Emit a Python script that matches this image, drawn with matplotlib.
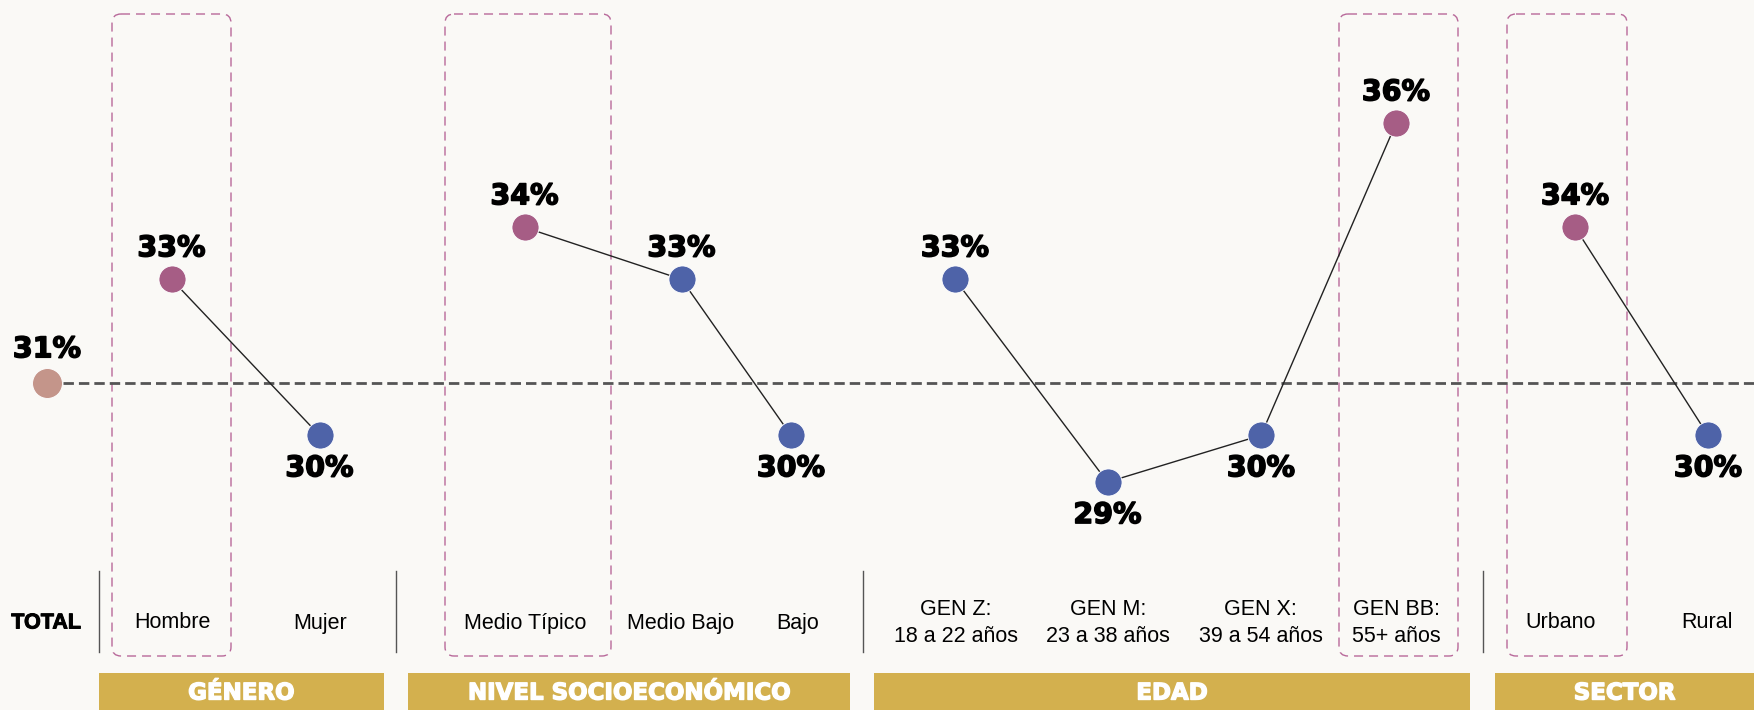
import matplotlib
matplotlib.use("Agg")
import matplotlib.pyplot as plt
import matplotlib.patheffects as pe
from matplotlib.patches import FancyBboxPatch, Rectangle

plt.rcParams['lines.scale_dashes'] = False

# ---------------- data ----------------
total_label = "TOTAL"
total_value = 31.0

categories = ["Hombre", "Mujer",
              "Medio Típico", "Medio Bajo", "Bajo",
              "GEN Z:\n18 a 22 años", "GEN M:\n23 a 38 años", "GEN X:\n39 a 54 años", "GEN BB:\n55+ años",
              "Urbano", "Rural"]
values = [33.0, 30.0,
          34.0, 33.0, 30.0,
          33.0, 29.1, 30.0, 36.0,
          34.0, 30.0]
highlight = [True, False,
             True, False, False,
             False, False, False, True,
             True, False]
group_names = ["GÉNERO", "NIVEL SOCIOECONÓMICO", "EDAD", "SECTOR"]
group_members = [[0, 1], [2, 3, 4], [5, 6, 7, 8], [9, 10]]

# ---------------- layout (pixels) ----------------
W, H = 1754, 710
total_x = 47
point_x = [171.5, 319.5, 524.5, 681.5, 791, 955, 1107.5, 1261, 1396, 1575, 1708]
label_x = [172, 320, 525, 681, 798, 955.5, 1107.7, 1260.5, 1396.5, 1561, 1707]
box_x = {0: (112, 231), 2: (445, 611), 8: (1339, 1458), 9: (1507, 1627)}
sep_x = [98.7, 395.5, 862.5, 1482.5]
group_bars = [(99, 383.5), (408, 850), (874, 1470), (1495, 1760)]
y_ref_px, px_per_pt = 383.3, 52.0

# ---------------- colours ----------------
bg = "#FAF9F6"
pink = "#A65D85"
blue = "#4E63A8"
tot_col = "#C4958A"
gold = "#D3B04E"
box_col = "#B8699A"

fig = plt.figure(figsize=(W / 100, H / 100), dpi=100)
fig.patch.set_facecolor(bg)

# decoration axes in pixel coordinates
deco = fig.add_axes([0, 0, 1, 1])
deco.set_xlim(0, W)
deco.set_ylim(H, 0)
deco.axis("off")
deco.set_facecolor("none")

# main data axes: x in pixel layout, y in percent values
ax = fig.add_axes([0, 0, 1, 1], zorder=3)
ax.set_xlim(0, W)
ax.set_ylim(total_value - (H - y_ref_px) / px_per_pt, total_value + y_ref_px / px_per_pt)
ax.axis("off")
ax.set_facecolor("none")

# dashed highlight boxes
for i, (x0, x1) in box_x.items():
    b = FancyBboxPatch((x0, 14), x1 - x0, 656 - 14,
                       boxstyle="round,pad=0,rounding_size=9",
                       fill=False, edgecolor=box_col, linewidth=1.0,
                       linestyle=(0, (6.5, 4.3)), zorder=1)
    deco.add_patch(b)

# separators
for sx in sep_x:
    deco.plot([sx, sx], [571, 652], color="#555555", lw=1.0, zorder=2)

# group bars
white_stroke = [pe.withStroke(linewidth=1.0, foreground="white")]
for (x0, x1), name in zip(group_bars, group_names):
    deco.add_patch(Rectangle((x0, 673), x1 - x0, H - 673 + 5, color=gold, lw=0, zorder=2))
    deco.text((x0 + min(x1, W)) / 2, 693, name, ha="center", va="center",
              color="white", fontsize=16.5, fontweight="bold", family="DejaVu Sans",
              zorder=3, path_effects=white_stroke)

# category labels
deco.text(total_x - 1, 623, total_label, ha="center", va="center",
          fontsize=15.5, fontweight="bold", family="Liberation Sans", color="black",
          path_effects=[pe.withStroke(linewidth=0.7, foreground="black")])
for lx, cat in zip(label_x, categories):
    deco.text(lx, 623, cat, ha="center", va="center", fontsize=15.5,
              family="Liberation Sans", color="black", linespacing=1.36)

# average dashed line
ax.plot([63, W], [total_value, total_value], color="#555555", lw=2.0,
        linestyle=(0, (7.5, 3.6)), zorder=2)

# connecting lines
for members in group_members:
    ax.plot([point_x[i] for i in members], [values[i] for i in members],
            color="#222222", lw=1.0, zorder=3)

# points
ax.plot([total_x], [total_value], "o", ms=21.5, color=tot_col, mec="white", mew=0.6, zorder=4)
for x, v, h in zip(point_x, values, highlight):
    ax.plot([x], [v], "o", ms=19.5, color=pink if h else blue, mec="white", mew=0.6, zorder=4)

# value labels
black_stroke = [pe.withStroke(linewidth=1.1, foreground="black")]
ax.text(total_x, total_value + 34 / px_per_pt, f"{total_value:.0f}%", ha="center", va="center",
        fontsize=20.5, fontweight="bold", family="DejaVu Sans", zorder=5, path_effects=black_stroke)
for i, (x, v) in enumerate(zip(point_x, values)):
    above = v > total_value
    y = v + (31 / px_per_pt if above else -33 / px_per_pt)
    ax.text(x, y, f"{round(v):.0f}%", ha="center", va="center",
            fontsize=20.5, fontweight="bold", family="DejaVu Sans", zorder=5,
            path_effects=black_stroke)

fig.savefig("out.png", dpi=100, facecolor=bg)
